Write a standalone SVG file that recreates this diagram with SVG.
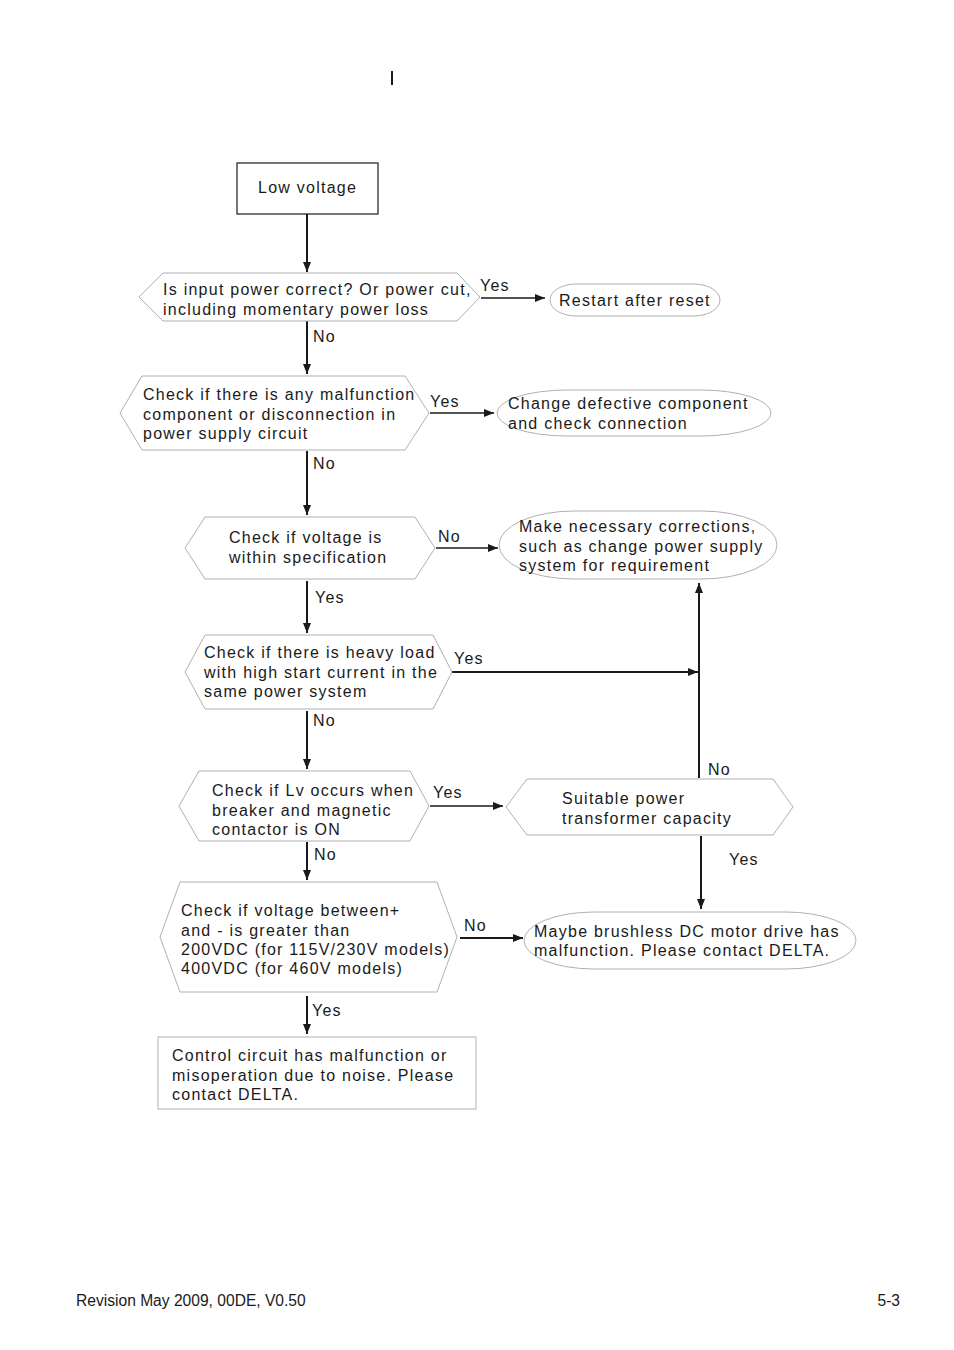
<svg xmlns="http://www.w3.org/2000/svg" width="954" height="1350" viewBox="0 0 954 1350">
<defs>
<marker id="ah" viewBox="0 0 10 8" refX="10" refY="4" markerWidth="10" markerHeight="8" markerUnits="userSpaceOnUse" orient="auto">
<path d="M0,0 L10,4 L0,8 Z" fill="#1a1a1a"/>
</marker>
<style>
text{font-family:"Liberation Sans",Arial,sans-serif;font-size:16px;fill:#1a1a1a;letter-spacing:1.25px}
.hex{fill:#fff;stroke:#b0b0b0;stroke-width:1}
.ell{fill:#fff;stroke:#b0b0b0;stroke-width:1}
.box{fill:#fff;stroke:#1a1a1a;stroke-width:1.2}
.gbox{fill:#fff;stroke:#b0b0b0;stroke-width:1}
.c{stroke:#1a1a1a;stroke-width:2;fill:none}
.h{stroke:#1a1a1a;stroke-width:1.3;fill:none}
.foot{font-size:15.6px;letter-spacing:0}
</style>
</defs>
<rect width="954" height="1350" fill="#fff"/>
<line x1="392" y1="71" x2="392" y2="85" stroke="#1a1a1a" stroke-width="2"/>

<g id="connectors">
<line class="c" x1="307" y1="214" x2="307" y2="272" marker-end="url(#ah)"/>
<line class="h" x1="481" y1="298" x2="545" y2="298" marker-end="url(#ah)"/>
<line class="c" x1="307" y1="321" x2="307" y2="374" marker-end="url(#ah)"/>
<line class="h" x1="430" y1="413" x2="494" y2="413" marker-end="url(#ah)"/>
<line class="c" x1="307" y1="451" x2="307" y2="515" marker-end="url(#ah)"/>
<line class="h" x1="436" y1="548" x2="498" y2="548" marker-end="url(#ah)"/>
<line class="c" x1="307" y1="581" x2="307" y2="633" marker-end="url(#ah)"/>
<line class="c" x1="452" y1="672" x2="698" y2="672" marker-end="url(#ah)"/>
<line class="c" x1="699" y1="778" x2="699" y2="583" marker-end="url(#ah)"/>
<line class="c" x1="307" y1="711" x2="307" y2="769" marker-end="url(#ah)"/>
<line class="h" x1="430" y1="806" x2="503" y2="806" marker-end="url(#ah)"/>
<line class="c" x1="701" y1="836" x2="701" y2="909" marker-end="url(#ah)"/>
<line class="c" x1="307" y1="842" x2="307" y2="880" marker-end="url(#ah)"/>
<line class="c" x1="460" y1="938" x2="523" y2="938" marker-end="url(#ah)"/>
<line class="c" x1="307" y1="996" x2="307" y2="1034" marker-end="url(#ah)"/>
<text x="480" y="291">Yes</text>
<text x="313" y="342">No</text>
<text x="430" y="407">Yes</text>
<text x="313" y="469">No</text>
<text x="438" y="542">No</text>
<text x="315" y="603">Yes</text>
<text x="454" y="664">Yes</text>
<text x="313" y="726">No</text>
<text x="708" y="775">No</text>
<text x="433" y="798">Yes</text>
<text x="729" y="865">Yes</text>
<text x="314" y="860">No</text>
<text x="464" y="931">No</text>
<text x="312" y="1016">Yes</text>
</g>

<g id="n-low">
<rect class="box" x="237" y="163" width="141" height="51"/>
<text x="258" y="193">Low voltage</text>
</g>

<g id="n-input">
<polygon class="hex" points="139,297 163,273 457,273 480,297 457,321 163,321"/>
<text x="163" y="295">Is input power correct? Or power cut,</text>
<text x="163" y="315">including momentary power loss</text>
</g>

<g id="n-restart">
<rect class="ell" x="550" y="284" width="170" height="32" rx="26" ry="16"/>
<text x="559" y="306">Restart after reset</text>
</g>

<g id="n-change">
<rect class="ell" x="497" y="390" width="274" height="46" rx="70" ry="23"/>
<text x="508" y="409">Change defective component</text>
<text x="508" y="429">and check connection</text>
</g>

<g id="n-malf">
<polygon class="hex" points="120,413 142,376 405,376 429,413 405,450 142,450"/>
<text x="143" y="400">Check if there is any malfunction</text>
<text x="143" y="420">component or disconnection in</text>
<text x="143" y="439">power supply circuit</text>
</g>

<g id="n-spec">
<polygon class="hex" points="185,548 205,517 415,517 435,548 415,579 205,579"/>
<text x="229" y="543">Check if voltage is</text>
<text x="229" y="563">within specification</text>
</g>

<g id="n-corr">
<rect class="ell" x="499" y="511" width="278" height="68" rx="75" ry="34"/>
<text x="519" y="532">Make necessary corrections,</text>
<text x="519" y="552">such as change power supply</text>
<text x="519" y="571">system for requirement</text>
</g>

<g id="n-heavy">
<polygon class="hex" points="185,672 205,635 433,635 452,672 433,709 205,709"/>
<text x="204" y="658">Check if there is heavy load</text>
<text x="204" y="678">with high start current in the</text>
<text x="204" y="697">same power system</text>
</g>

<g id="n-lv">
<polygon class="hex" points="179,806 199,771 410,771 429,806 410,841 199,841"/>
<text x="212" y="796">Check if Lv occurs when</text>
<text x="212" y="816">breaker and magnetic</text>
<text x="212" y="835">contactor is ON</text>
</g>

<g id="n-suitable">
<polygon class="hex" points="506,807 527,779 773,779 793,807 773,835 527,835"/>
<text x="562" y="804">Suitable power</text>
<text x="562" y="824">transformer capacity</text>
</g>

<g id="n-dc">
<polygon class="hex" points="160,937 180,882 437,882 457,937 437,992 180,992"/>
<text x="181" y="916">Check if voltage between+</text>
<text x="181" y="936">and - is greater than</text>
<text x="181" y="955">200VDC (for 115V/230V models)</text>
<text x="181" y="974">400VDC (for 460V models)</text>
</g>

<g id="n-maybe">
<rect class="ell" x="524" y="912" width="332" height="57" rx="70" ry="28.5"/>
<text x="534" y="937">Maybe brushless DC motor drive has</text>
<text x="534" y="956">malfunction. Please contact DELTA.</text>
</g>

<g id="n-ctrl">
<rect class="gbox" x="158" y="1037" width="318" height="72"/>
<text x="172" y="1061">Control circuit has malfunction or</text>
<text x="172" y="1081">misoperation due to noise. Please</text>
<text x="172" y="1100">contact DELTA.</text>
</g>

<text class="foot" x="76" y="1306">Revision May 2009, 00DE, V0.50</text>
<text class="foot" x="900" y="1306" text-anchor="end">5-3</text>
</svg>
